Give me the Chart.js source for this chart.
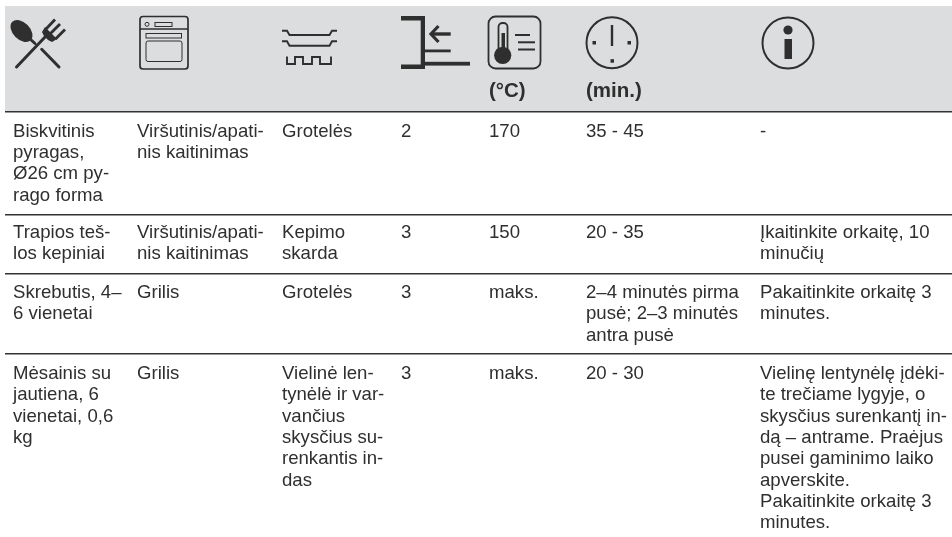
<!DOCTYPE html>
<html>
<head>
<meta charset="utf-8">
<style>
html, body { margin: 0; padding: 0; background: #ffffff; }
#wrap { width: 952px; height: 537px; }
</style>
<script src="https://cdn.jsdelivr.net/npm/chart.js@4"></script>
</head>
<body>
<div id="wrap"><canvas id="tableChart" width="952" height="537"></canvas></div>
<script>
// Table contents, one array per column, cell lines separated by "\n".
const headerUnits = ["", "", "", "", "(°C)", "(min.)", ""];
const dishes = ["Biskvitinis\npyragas,\nØ26 cm py-\nrago forma", "Trapios teš-\nlos kepiniai", "Skrebutis, 4–\n6 vienetai", "Mėsainis su\njautiena, 6\nvienetai, 0,6\nkg"];
const heating = ["Viršutinis/apati-\nnis kaitinimas", "Viršutinis/apati-\nnis kaitinimas", "Grilis", "Grilis"];
const accessories = ["Grotelės", "Kepimo\nskarda", "Grotelės", "Vielinė len-\ntynėlė ir var-\nvančius\nskysčius su-\nrenkantis in-\ndas"];
const levels = ["2", "3", "3", "3"];
const temperatures = ["170", "150", "maks.", "maks."];
const times = ["35 - 45", "20 - 35", "2–4 minutės pirma\npusė; 2–3 minutės\nantra pusė", "20 - 30"];
const notes = ["-", "Įkaitinkite orkaitę, 10\nminučių", "Pakaitinkite orkaitę 3\nminutes.", "Vielinę lentynėlę įdėki-\nte trečiame lygyje, o\nskysčius surenkantį in-\ndą – antrame. Praėjus\npusei gaminimo laiko\napverskite.\nPakaitinkite orkaitę 3\nminutes."];

const columns = [dishes, heating, accessories, levels, temperatures, times, notes];

// Layout, in page pixels (the scales below run 1:1 with the page).
const columnLeft = [13, 137, 282, 401, 489, 586, 760];
const ruleY = [112, 214.5, 273.5, 354];
const firstBaseline = [136.5, 238, 298, 379];
const lineHeight = 21.35;
const headerTop = 6;
const headerBottom = 111;
const tableLeft = 5;
const pageWidth = 952;
const pageHeight = 537;

const INK = "#2f2f2f";
const BAND = "#dcddde";
const FONT = '"Liberation Sans", Arial, sans-serif';

// Header pictograms, drawn in page pixels.
function strokeRoundRect(ctx, x, y, w, h, r) {
    ctx.beginPath();
    ctx.roundRect(x, y, w, h, r);
    ctx.stroke();
}

function line(ctx, x1, y1, x2, y2) {
    ctx.beginPath();
    ctx.moveTo(x1, y1);
    ctx.lineTo(x2, y2);
    ctx.stroke();
}

function polyline(ctx, points) {
    ctx.beginPath();
    points.forEach(function (p, i) {
        if (i === 0) {
            ctx.moveTo(p[0], p[1]);
        } else {
            ctx.lineTo(p[0], p[1]);
        }
    });
    ctx.stroke();
}

function dot(ctx, x, y, r) {
    ctx.beginPath();
    ctx.arc(x, y, r, 0, Math.PI * 2);
    ctx.fill();
}

function drawCutlery(ctx) {
    ctx.lineCap = "round";
    ctx.lineWidth = 3;
    // spoon
    ctx.beginPath();
    ctx.ellipse(21.5, 31, 13, 8.5, Math.PI / 4, 0, Math.PI * 2);
    ctx.fill();
    line(ctx, 29, 38, 35, 43.5);
    line(ctx, 41.7, 49.3, 59, 67);
    // fork
    line(ctx, 16.5, 67, 46, 36);
    ctx.beginPath();
    ctx.moveTo(45, 27);
    ctx.lineTo(57, 39);
    ctx.lineTo(52, 42);
    ctx.lineTo(48, 40);
    ctx.lineTo(44, 36);
    ctx.lineTo(42, 32);
    ctx.closePath();
    ctx.fill();
    ctx.lineWidth = 2.8;
    ctx.lineCap = "butt";
    line(ctx, 46, 29, 55, 19.5);
    line(ctx, 50.5, 33.5, 60, 24);
    line(ctx, 55.5, 39, 65, 29.5);
}

function drawOven(ctx) {
    ctx.lineWidth = 1.7;
    strokeRoundRect(ctx, 140, 16.5, 48, 52.5, 3);
    line(ctx, 140, 29, 188, 29);
    ctx.lineWidth = 1;
    ctx.beginPath();
    ctx.arc(147, 24.3, 2, 0, Math.PI * 2);
    ctx.stroke();
    ctx.strokeRect(155, 22.5, 17, 4);
    ctx.strokeRect(146, 33.5, 35.5, 4.5);
    strokeRoundRect(ctx, 146, 41, 36, 20.5, 2);
}

function drawRack(ctx) {
    ctx.lineWidth = 1.9;
    ctx.lineCap = "butt";
    polyline(ctx, [[282, 30.7], [287, 30.7], [289.5, 35], [329.5, 35], [332, 30.7], [337, 30.7]]);
    polyline(ctx, [[282, 41.3], [287, 41.3], [289.5, 45.7], [329.5, 45.7], [332, 41.3], [337, 41.3]]);
    polyline(ctx, [[287, 56.5], [287, 64], [295, 64], [295, 57], [303, 57], [303, 64],
        [312, 64], [312, 57], [320, 57], [320, 64], [331, 64], [331, 56.5]]);
}

function drawLevel(ctx) {
    ctx.lineCap = "butt";
    ctx.fillRect(401, 16, 24, 4.5);
    ctx.fillRect(420.7, 16, 4.3, 53);
    ctx.fillRect(401, 64.5, 24, 4.5);
    ctx.fillRect(425, 61.8, 45, 3.8);
    ctx.fillRect(425, 49.5, 25.7, 2.8);
    ctx.fillRect(431, 32.3, 19.7, 3.4);
    ctx.lineWidth = 3.2;
    polyline(ctx, [[438.5, 26], [431, 34], [438.5, 42]]);
}

function drawThermometer(ctx) {
    ctx.lineWidth = 1.8;
    strokeRoundRect(ctx, 488.5, 16.5, 52, 52, 7);
    dot(ctx, 502.7, 55.3, 8.6);
    strokeRoundRect(ctx, 498.5, 23, 9, 30, 4);
    ctx.fillRect(501.5, 33, 3.5, 20);
    ctx.lineWidth = 2;
    line(ctx, 515, 35, 530, 35);
    line(ctx, 518, 42.3, 535, 42.3);
    line(ctx, 518, 49.5, 535, 49.5);
}

function drawClock(ctx) {
    ctx.lineWidth = 2;
    ctx.beginPath();
    ctx.arc(612, 42.7, 25.5, 0, Math.PI * 2);
    ctx.stroke();
    ctx.lineWidth = 2.4;
    ctx.lineCap = "butt";
    line(ctx, 612, 25, 612, 46);
    ctx.fillRect(592.5, 41, 3.5, 3.5);
    ctx.fillRect(627.5, 41, 3.5, 3.5);
    ctx.fillRect(610.5, 59.2, 3.5, 3.5);
}

function drawInfo(ctx) {
    ctx.lineWidth = 2;
    ctx.beginPath();
    ctx.arc(788, 43, 25.5, 0, Math.PI * 2);
    ctx.stroke();
    dot(ctx, 788, 30, 4.6);
    ctx.fillRect(784.5, 39, 7.5, 20);
}

const headerIcons = [drawCutlery, drawOven, drawRack, drawLevel, drawThermometer, drawClock, drawInfo];

// Header band sits under the grid rules.
const headerBandPlugin = {
    id: "headerBand",
    beforeDraw: function (chart) {
        const ctx = chart.ctx;
        const x = chart.scales.x;
        const y = chart.scales.y;
        ctx.save();
        ctx.fillStyle = BAND;
        ctx.fillRect(x.getPixelForValue(tableLeft), y.getPixelForValue(headerTop),
            x.getPixelForValue(pageWidth) - x.getPixelForValue(tableLeft),
            y.getPixelForValue(headerBottom) - y.getPixelForValue(headerTop));
        ctx.restore();
    }
};

// Writes the cell text and the header pictograms on top of the chart.
const tableTextPlugin = {
    id: "tableText",
    afterDraw: function (chart) {
        const ctx = chart.ctx;
        const x = chart.scales.x;
        const y = chart.scales.y;

        ctx.save();
        ctx.fillStyle = INK;
        ctx.strokeStyle = INK;
        headerIcons.forEach(function (draw) {
            ctx.save();
            draw(ctx);
            ctx.restore();
        });

        ctx.textAlign = "left";
        ctx.textBaseline = "alphabetic";
        ctx.font = "bold 20.5px " + FONT;
        headerUnits.forEach(function (unit, c) {
            ctx.fillText(unit, x.getPixelForValue(columnLeft[c]), y.getPixelForValue(97));
        });

        ctx.font = "18.6px " + FONT;
        columns.forEach(function (cells, c) {
            cells.forEach(function (cell, r) {
                cell.split("\n").forEach(function (text, i) {
                    ctx.fillText(text, x.getPixelForValue(columnLeft[c]),
                        y.getPixelForValue(firstBaseline[r] + i * lineHeight));
                });
            });
        });
        ctx.restore();
    }
};

document.addEventListener("DOMContentLoaded", function () {
    const ctx = document.getElementById("tableChart").getContext("2d");
    new Chart(ctx, {
        type: "scatter",
        data: {datasets: [{data: [], pointRadius: 0}]},
        plugins: [headerBandPlugin, tableTextPlugin],
        options: {
            responsive: false,
            animation: false,
            layout: {padding: {left: tableLeft}},
            plugins: {legend: {display: false}, tooltip: {enabled: false}},
            scales: {
                x: {type: "linear", min: tableLeft, max: pageWidth, display: false},
                y: {
                    type: "linear",
                    min: 0,
                    max: pageHeight,
                    reverse: true,
                    // The table rules are this axis's grid lines.
                    afterBuildTicks: function (axis) {
                        axis.ticks = ruleY.map(function (value) {
                            return {value: value};
                        });
                    },
                    ticks: {display: false},
                    border: {display: false},
                    grid: {color: "#333333", lineWidth: 1.6, drawTicks: false}
                }
            }
        }
    });
});
</script>
</body>
</html>
